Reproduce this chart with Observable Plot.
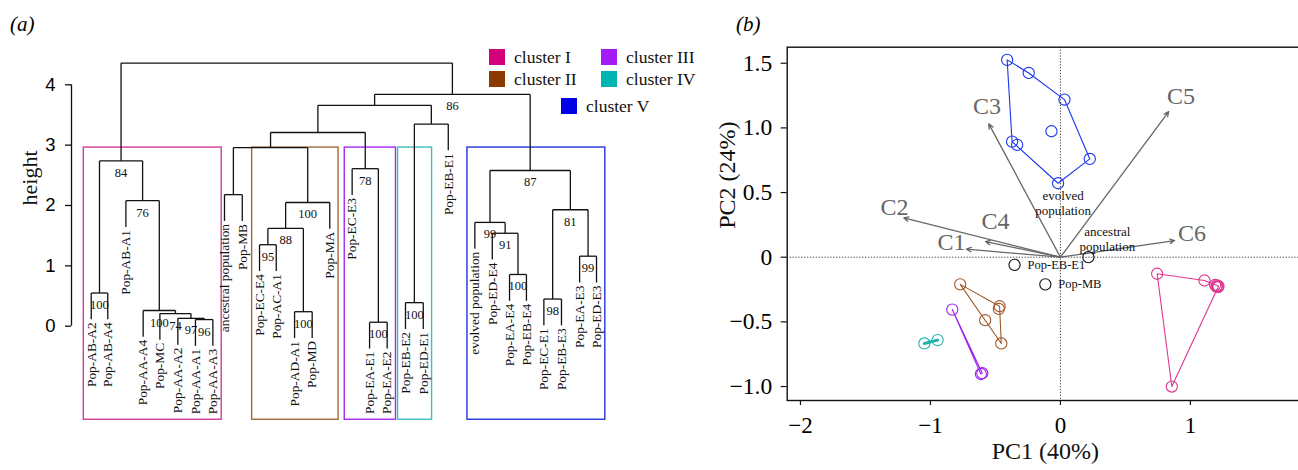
<!DOCTYPE html>
<html>
<head>
<meta charset="utf-8">
<script src="https://cdn.jsdelivr.net/npm/d3@7"></script>
<script src="https://cdn.jsdelivr.net/npm/@observablehq/plot@0.6"></script>
<style>
  html, body { margin: 0; padding: 0; background: #fff; }
  #wrap { position: relative; width: 1298px; height: 470px; overflow: hidden; background: #fff; font-family: "Liberation Serif", serif; }
  #pa { position: absolute; left: 0; top: 0; width: 700px; height: 470px; }
  #pb { position: absolute; left: 700px; top: 0; width: 610px; height: 470px; }
  .tag { position: absolute; font-style: italic; font-size: 21px; font-family: "Liberation Serif", serif; }
  .lg { position: absolute; display: flex; align-items: center; font-size: 17.5px; font-family: "Liberation Serif", serif; color: #111; white-space: nowrap; }
  .lg span.sw { display: inline-block; width: 16px; height: 16px; margin-right: 9px; }
</style>
</head>
<body>
<div id="wrap">
  <div id="pa"></div>
  <div id="pb"></div>
  <div class="tag" style="left:10px;top:12px">(a)</div>
  <div class="tag" style="left:736px;top:12px">(b)</div>
  <div id="legend"></div>
</div>
<script>
// ---------------- Panel (a): dendrogram data ----------------
const leafNames = ["Pop-AB-A2","Pop-AB-A4","Pop-AB-A1","Pop-AA-A4","Pop-MC","Pop-AA-A2","Pop-AA-A1","Pop-AA-A3",
  "ancestral population","Pop-MB","Pop-EC-E4","Pop-AC-A1","Pop-AD-A1","Pop-MD","Pop-MA",
  "Pop-EC-E3","Pop-EA-E1","Pop-EA-E2","Pop-EB-E2","Pop-ED-E1","Pop-EB-E1",
  "evolved population","Pop-ED-E4","Pop-EA-E4","Pop-EB-E4","Pop-EC-E1","Pop-EB-E3","Pop-EA-E3","Pop-ED-E3"];
// leaf order slot along the axis (gaps as in the figure)
const leafSlot = [0, 0.94, 1.97, 2.95, 3.90, 4.92, 5.92, 6.91,
  7.57, 8.58, 9.56, 10.51, 11.55, 12.55, 13.55,
  14.82, 15.81, 16.81, 17.85, 18.86, 20.28,
  21.79, 22.78, 23.76, 24.72, 25.71, 26.71, 27.74, 28.70];
// merges: [left, right, height, bootstrap]; numbers refer to earlier merges
const merges = [
  ["Pop-AB-A2", "Pop-AB-A4", 0.55, 100],   // 0
  ["Pop-AA-A1", "Pop-AA-A3", 0.11, 96],    // 1
  ["Pop-AA-A2", 1, 0.13, 97],              // 2
  ["Pop-MC", 2, 0.21, 74],                 // 3
  ["Pop-AA-A4", 3, 0.26, 100],             // 4
  ["Pop-AB-A1", 4, 2.08, 76],              // 5
  [0, 5, 2.74, 84],                        // 6
  ["ancestral population", "Pop-MB", 2.18, null], // 7
  ["Pop-EC-E4", "Pop-AC-A1", 1.35, 95],    // 8
  ["Pop-AD-A1", "Pop-MD", 0.24, 100],      // 9
  [8, 9, 1.62, 88],                        // 10
  [10, "Pop-MA", 2.05, 100],               // 11
  [7, 11, 2.96, null],                     // 12
  ["Pop-EA-E1", "Pop-EA-E2", 0.066, 100],  // 13
  ["Pop-EC-E3", 13, 2.61, 78],             // 14
  [12, 14, 3.21, null],                    // 15
  ["Pop-EB-E2", "Pop-ED-E1", 0.39, 100],   // 16
  [16, "Pop-EB-E1", 3.35, null],           // 17
  [15, 17, 3.66, null],                    // 18
  ["Pop-EA-E4", "Pop-EB-E4", 0.857, 100],  // 19
  ["Pop-ED-E4", 19, 1.54, 91],             // 20
  ["evolved population", 20, 1.72, 99],    // 21
  ["Pop-EC-E1", "Pop-EB-E3", 0.45, 98],    // 22
  ["Pop-EA-E3", "Pop-ED-E3", 1.16, 99],    // 23
  [22, 23, 1.93, 81],                      // 24
  [21, 24, 2.58, 87],                      // 25
  [18, 25, 3.84, 86],                      // 26
  [6, 26, 4.36, null]                      // 27
];
const heightTicks = [0, 1, 2, 3, 4];
const clusterNames = ["cluster I", "cluster II", "cluster III", "cluster IV", "cluster V"];
const clusterFirst = ["Pop-AB-A2", "Pop-EC-E4", "Pop-EC-E3", "Pop-EB-E2", "evolved population"];
const clusterLast  = ["Pop-AA-A3", "Pop-MA", "Pop-EA-E2", "Pop-ED-E1", "Pop-ED-E3"];
const cutHeight = 2.96;

// ---------------- Panel (b): PCA data ----------------
const pcaI   = [[0.744,-0.128],[1.108,-0.18],[1.19,-0.215],[1.2,-0.228],[1.205,-0.218],[1.212,-0.232],[1.216,-0.224],[0.857,-1.0]];
const pcaII  = [[-0.771,-0.21],[-0.468,-0.379],[-0.474,-0.40],[-0.579,-0.487],[-0.455,-0.667]];
const pcaIII = [[-0.832,-0.405],[-0.612,-0.903],[-0.601,-0.897]];
const pcaIV  = [[-1.047,-0.667],[-0.945,-0.641]];
const pcaV   = [[-0.41,1.526],[-0.244,1.425],[0.031,1.219],[-0.069,0.974],[0.226,0.76],[-0.018,0.572],[-0.333,0.869],[-0.372,0.894]];
const otherNames = ["ancestral population", "Pop-EB-E1", "Pop-MB"];
const otherX = [0.215, -0.353, -0.116];
const otherY = [0.0, -0.059, -0.21];
const loadNames = ["C1", "C2", "C3", "C4", "C5", "C6"];
const loadX = [-0.723, -1.205, -0.551, -0.577, 0.833, 0.879];
const loadY = [0.062, 0.304, 1.031, 0.121, 1.126, 0.129];
const loadLabelX = [-0.838, -1.277, -0.564, -0.50, 0.928, 1.013];
const loadLabelY = [0.116, 0.387, 1.168, 0.276, 1.242, 0.188];
const pcXTicks = [-2, -1, 0, 1];
const pcYTicks = [-1, -0.5, 0, 0.5, 1, 1.5];

// ---------------- styles ----------------
const serif = "Liberation Serif, Times New Roman, serif";
const sans = "Liberation Sans, Arial, sans-serif";
const boxColors = ["#D23C94", "#A06B3A", "#A52AF0", "#3DC1B7", "#2233DD"];
const legendColors = ["#D2007A", "#8B3A00", "#A31BF7", "#00B4B0", "#0000E6"];
const pcaColors = ["#E0358F", "#A0582A", "#A020F0", "#1DB3AB", "#1A36F0"];

// ---------------- build dendrogram geometry ----------------
const leafX = new Map(leafNames.map((n, i) => [n, leafSlot[i]]));
const maxH = d3.max(merges, d => d[2]);
const hang = 0.1 * maxH;
const nodes = [], segs = [], leafEnd = new Map();
merges.forEach(([a, b, h, bs]) => {
  const get = c => typeof c === "number" ? nodes[c] : {x: leafX.get(c), leaf: c};
  const A = get(a), B = get(b);
  for (const C of [A, B]) {
    const low = C.leaf ? h - hang : C.h;
    segs.push({x1: C.x, y1: h, x2: C.x, y2: low});
    if (C.leaf) leafEnd.set(C.leaf, h - hang);
  }
  segs.push({x1: A.x, y1: h, x2: B.x, y2: h});
  nodes.push({x: (A.x + B.x) / 2, h, bs});
});
const leafData = leafNames.map(n => ({name: n, x: leafX.get(n), y: leafEnd.get(n)}));
const boxBottom = -1.55;
const boxes = clusterNames.map((c, i) => ({
  c, x1: leafX.get(clusterFirst[i]) - 0.42, x2: leafX.get(clusterLast[i]) + 0.5,
  y1: boxBottom, y2: cutHeight, color: boxColors[i]
}));
const axisPos = -1.12;

const plotA = Plot.plot({
  width: 700, height: 470,
  marginLeft: 71, marginRight: 81.1, marginTop: 0, marginBottom: 0,
  x: {domain: [axisPos, 30], axis: null},
  y: {domain: [0, 4], range: [325.7, 84.3], axis: null},
  style: {background: "transparent", overflow: "visible"},
  marks: [
    Plot.rect(boxes, {x1: "x1", x2: "x2", y1: "y1", y2: "y2", fill: "none", stroke: "color", strokeWidth: 1.4}),
    Plot.link(segs, {x1: "x1", y1: "y1", x2: "x2", y2: "y2", stroke: "#111", strokeWidth: 1.3}),
    Plot.text(leafData, {x: "x", y: "y", text: "name", rotate: -90, textAnchor: "end", dy: 3,
      fontSize: 13.4, fontFamily: serif, fill: "#111"}),
    Plot.text(nodes.filter(d => d.bs != null), {x: "x", y: "h", text: d => String(d.bs), dy: 12,
      fontSize: 12.5, fontFamily: serif, fill: "#111"}),
    Plot.ruleX([axisPos], {y1: 0, y2: 4, stroke: "#111", strokeWidth: 1.3}),
    Plot.axisY({ticks: heightTicks, tickFormat: d => String(d), tickSize: 6, tickPadding: 10, fontSize: 18.5, fontFamily: sans,
      label: null, stroke: "#111", strokeWidth: 1.3}),
    Plot.text(["height"], {frameAnchor: "left", y: [2], dx: -42, rotate: -90, fontSize: 22, fontFamily: serif, fill: "#111"})
  ]
});
document.getElementById("pa").appendChild(plotA);

// ---------------- build PCA ----------------
const clusterPts = [pcaI, pcaII, pcaIII, pcaIV, pcaV];
const pts = clusterPts.flatMap((arr, i) => arr.map(([x, y]) => ({x, y, c: clusterNames[i], color: pcaColors[i]})));
const hullPts = clusterPts.flatMap((arr, i) => {
  const hull = arr.length >= 3 ? d3.polygonHull(arr) : arr.slice();
  const closed = [...hull, hull[0]];
  return closed.map(([x, y]) => ({x, y, c: clusterNames[i], color: pcaColors[i], w: arr.length === 2 ? 3 : 1.1}));
});
const others = otherNames.map((n, i) => ({name: n, x: otherX[i], y: otherY[i]}));
const loads = loadNames.map((n, i) => ({n, x: loadX[i], y: loadY[i], lx: loadLabelX[i], ly: loadLabelY[i]}));
const minus = v => (v < 0 ? "\u2212" : "") + Math.abs(v);
const evolved = {x: pcaV[5][0], y: pcaV[5][1]};

const plotB = Plot.plot({
  width: 610, height: 470,
  marginLeft: 86.7, marginRight: 7, marginTop: 46.7, marginBottom: 70,
  x: {domain: [-2.102, 1.87], axis: null},
  y: {domain: [-1.108, 1.624], axis: null},
  style: {background: "transparent"},
  marks: [
    Plot.ruleX([0], {stroke: "#444", strokeWidth: 1, strokeDasharray: "1.3,1.6"}),
    Plot.ruleY([0], {stroke: "#444", strokeWidth: 1, strokeDasharray: "1.3,1.6"}),
    Plot.arrow(loads, {x1: 0, y1: 0, x2: "x", y2: "y", stroke: "#666", strokeWidth: 1.3, headLength: 6, headAngle: 50}),
    Plot.text(loads, {x: "lx", y: "ly", text: "n", fontSize: 24, fontFamily: serif, fill: "#666"}),
    Plot.line(hullPts.filter(d => d.w > 2), {x: "x", y: "y", z: "c", stroke: "color", strokeWidth: 3}),
    Plot.line(hullPts.filter(d => d.w <= 2), {x: "x", y: "y", z: "c", stroke: "color", strokeWidth: 1.1}),
    Plot.dot(pts, {x: "x", y: "y", r: 5.6, stroke: "color", fill: "none", strokeWidth: 1.1}),
    Plot.dot(others, {x: "x", y: "y", r: 5.6, stroke: "#111", fill: "none", strokeWidth: 1.1}),
    Plot.text(others.filter(d => d.name !== "ancestral population"), {x: "x", y: "y", text: "name", textAnchor: "start",
      dx: 13, fontSize: 12.5, fontFamily: serif, fill: "#111"}),
    Plot.text([{...others[0], t: "ancestral\npopulation"}], {x: "x", y: "y", text: "t", dx: 19, dy: -6,
      lineAnchor: "bottom", lineHeight: 1.15, fontSize: 13, fontFamily: serif, fill: "#111"}),
    Plot.text([{...evolved, t: "evolved\npopulation"}], {x: "x", y: "y", text: "t", dx: 5, dy: 6,
      lineAnchor: "top", lineHeight: 1.15, fontSize: 13, fontFamily: serif, fill: "#111"}),
    Plot.frame({stroke: "#111", strokeWidth: 1.4}),
    Plot.axisX({ticks: pcXTicks, tickFormat: minus, tickSize: 5, tickPadding: 11, fontSize: 23, fontFamily: serif,
      label: null, stroke: "#111", strokeWidth: 1.2}),
    Plot.axisY({ticks: pcYTicks, tickFormat: d => d === 0 ? "0" : (d < 0 ? "\u2212" : "") + Math.abs(d).toFixed(1),
      tickSize: 6, tickPadding: 9, fontSize: 23.5, fontFamily: serif, label: null, stroke: "#111", strokeWidth: 1.2}),
    Plot.text(["PC2 (24%)"], {frameAnchor: "left", dx: -60, dy: 5, rotate: -90, fontSize: 24, fontFamily: serif, fill: "#111"}),
    Plot.text(["PC1 (40%)"], {frameAnchor: "bottom", dy: 58, fontSize: 24, fontFamily: serif, fill: "#111"})
  ]
});
document.getElementById("pb").appendChild(plotB);

// ---------------- legend (panel a) ----------------
const legendPos = [[489, 49], [489, 71], [601, 49], [601, 71], [561, 98]];
const lg = document.getElementById("legend");
clusterNames.forEach((c, i) => {
  const d = document.createElement("div");
  d.className = "lg";
  d.style.left = legendPos[i][0] + "px";
  d.style.top = (legendPos[i][1] - 2) + "px";
  d.style.height = "20px";
  d.innerHTML = `<span class="sw" style="background:${legendColors[i]}"></span><span>${c}</span>`;
  lg.appendChild(d);
});
</script>
</body>
</html>
